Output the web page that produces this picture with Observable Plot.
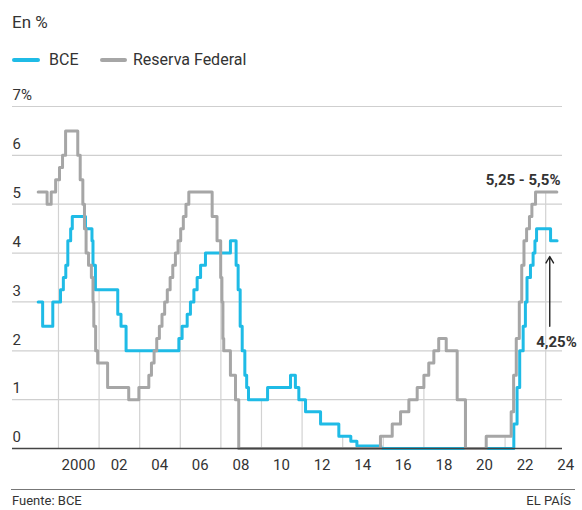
<!DOCTYPE html>
<html><head><meta charset="utf-8">
<script src="https://cdn.jsdelivr.net/npm/d3@7"></script>
<script src="https://cdn.jsdelivr.net/npm/@observablehq/plot@0.6"></script>
<style>
body{margin:0;background:#fff;font-family:Roboto,"Open Sans",sans-serif;color:#333;}
#wrap{position:relative;width:582px;height:510px;overflow:hidden;background:#fff;}
.title{position:absolute;left:12px;top:11px;font-size:17px;line-height:22px;}
.lg{position:absolute;top:49px;font-size:16px;line-height:22px;}
.sw{position:absolute;top:58px;height:4px;border-radius:2px;}
#chart{position:absolute;left:0;top:80px;}
.footline{position:absolute;left:11px;width:564px;top:489px;height:1px;background:#777;}
.src{position:absolute;left:12px;top:493px;font-size:13px;line-height:15px;}
.brand{position:absolute;right:11px;top:493px;font-size:13px;line-height:15px;}
</style></head>
<body>
<div id="wrap">
  <div class="title">En %</div>
  <div class="sw" style="left:12px;width:28px;background:#1fbbe6"></div>
  <div class="lg" style="left:49px">BCE</div>
  <div class="sw" style="left:100px;width:27px;background:#a6a6a6"></div>
  <div class="lg" style="left:133px">Reserva Federal</div>
  <div id="chart"></div>
  <div class="footline"></div>
  <div class="src">Fuente: BCE</div>
  <div class="brand">EL PAÍS</div>
</div>
<script>
// Reserva Federal (step points: year, rate %)
const fedYears = [1999.0, 1999.44, 1999.64, 1999.86, 2000.05, 2000.2, 2000.35, 2000.95, 2001.07, 2001.2, 2001.28, 2001.36, 2001.48, 2001.62, 2001.7, 2001.74, 2001.83, 2001.93, 2002.42, 2003.46, 2003.96,
  2004.45, 2004.58, 2004.71, 2004.84, 2004.97, 2005.1, 2005.23, 2005.36, 2005.5, 2005.63, 2005.76, 2005.89, 2006.02, 2006.15, 2006.28, 2006.42,
  2007.57, 2007.81, 2007.99, 2008.05, 2008.1, 2008.14, 2008.47, 2008.72, 2008.88,
  2015.86, 2016.44, 2016.85, 2017.26, 2017.67, 2018.0, 2018.24, 2018.49, 2018.73, 2019.1, 2019.64, 2020.05, 2021.07,
  2022.3, 2022.42, 2022.55, 2022.7, 2022.82, 2022.93, 2023.06, 2023.2, 2023.32, 2023.5, 2024.55];
const fedRates = [5.25, 5.0, 5.25, 5.5, 5.75, 6.0, 6.5, 6.0, 5.5, 5.0, 4.5, 4.0, 3.75, 3.5, 3.0, 2.5, 2.0, 1.75, 1.25, 1.0, 1.25,
  1.5, 1.75, 2.0, 2.25, 2.5, 2.75, 3.0, 3.25, 3.5, 3.75, 4.0, 4.25, 4.5, 4.75, 5.0, 5.25,
  4.75, 4.25, 3.5, 3.0, 2.25, 2.0, 1.5, 1.0, 0,
  0.25, 0.5, 0.75, 1.0, 1.25, 1.5, 1.75, 2.0, 2.25, 2.0, 1.0, 0, 0.25,
  0.75, 1.5, 2.25, 3.0, 3.75, 4.25, 4.5, 4.75, 5.0, 5.25, 5.25];

// BCE (step points: year, rate %)
const bceYears = [1999.0, 1999.22, 1999.72, 2000.1, 2000.24, 2000.36, 2000.46, 2000.6, 2000.68, 2001.33, 2001.65, 2001.7, 2001.82, 2002.92, 2003.08, 2003.33,
  2005.93, 2006.09, 2006.34, 2006.5, 2006.67, 2006.83, 2007.0, 2007.24, 2008.47, 2008.75, 2008.85, 2008.95, 2009.05, 2009.18, 2009.27, 2009.36,
  2010.3, 2011.43, 2011.67, 2011.84, 2012.17, 2012.91, 2013.81, 2014.4, 2014.7, 2015.88,
  2022.43, 2022.59, 2022.72, 2022.89, 2023.0, 2023.08, 2023.25, 2023.38, 2023.47, 2023.55, 2024.24, 2024.56];
const bceRates = [3.0, 2.5, 3.0, 3.25, 3.5, 3.75, 4.25, 4.5, 4.75, 4.5, 4.25, 3.75, 3.25, 2.75, 2.5, 2.0,
  2.25, 2.5, 2.75, 3.0, 3.25, 3.5, 3.75, 4.0, 4.25, 3.75, 3.25, 2.5, 2.0, 1.5, 1.25, 1.0,
  1.25, 1.5, 1.25, 1.0, 0.75, 0.5, 0.25, 0.15, 0.05, 0,
  0.5, 1.25, 2.0, 2.5, 3.0, 3.5, 3.75, 4.0, 4.25, 4.5, 4.25, 4.25];

const xTicks = [2000, 2002, 2004, 2006, 2008, 2010, 2012, 2014, 2016, 2018, 2020, 2022, 2024];
const xTickLabels = ["2000", "02", "04", "06", "08", "10", "12", "14", "16", "18", "20", "22", "24"];
const yTicks = [0, 1, 2, 3, 4, 5, 6, 7];
const yTickLabels = ["0", "1", "2", "3", "4", "5", "6", "7%"];
const fedLabel = "5,25 - 5,5%";
const bceLabel = "4,25%";

const fed = fedYears.map((y, i) => ({year: y, rate: fedRates[i]}));
const bce = bceYears.map((y, i) => ({year: y, rate: bceRates[i]}));
function rateAt(series, t) {
  let v = 0;
  for (const d of series) if (d.year <= t) v = d.rate;
  return v;
}
const cyan = "#1fbbe6", gray = "#a6a6a6";

const chart = Plot.plot({
  width: 582,
  height: 405,
  marginTop: 26,
  marginBottom: 37,
  marginLeft: 12,
  marginRight: 20,
  style: {fontFamily: "Roboto, sans-serif", fontSize: "15px", color: "#333", background: "transparent"},
  x: {domain: [1997.735, 2024.828]},
  y: {domain: [0, 7]},
  marks: [
    Plot.ruleY(yTicks.filter(d => d > 0), {stroke: "#cfcfcf", strokeWidth: 1.2}),
    Plot.ruleX(xTicks, {x: d => d, y1: 0, y2: d => Math.max(rateAt(fed, d), rateAt(bce, d)), stroke: "#d2d2d2", strokeWidth: 1.2}),
    Plot.axisY({ticks: yTicks, tickSize: 0, tickPadding: 0, textAnchor: "start", dy: -11,
      tickFormat: d => yTickLabels[yTicks.indexOf(d)], fill: "#333", label: null}),
    Plot.axisX({ticks: xTicks, tickSize: 0, tickPadding: 11, dx: 20,
      tickFormat: d => xTickLabels[xTicks.indexOf(d)], fill: "#333", label: null}),
    Plot.line(bce, {x: "year", y: "rate", curve: "step-after", stroke: cyan, strokeWidth: 3}),
    Plot.line(fed, {x: "year", y: "rate", curve: "step-after", stroke: gray, strokeWidth: 3}),
    Plot.ruleY([0], {stroke: "#444", strokeWidth: 1.5}),
    Plot.text([fedLabel], {x: 2024.73, y: 5.25, dy: -12, text: d => d, textAnchor: "end", fontWeight: "bold", fontSize: 15, fill: "#333"}),
    Plot.arrow([bceLabel], {x1: 2024.2, y1: 2.5, x2: 2024.2, y2: 3.93, stroke: "#222", strokeWidth: 1.4, headLength: 8}),
    Plot.text([bceLabel], {x: 2024.53, y: 2.5, dy: 16, text: d => d, fontWeight: "bold", fontSize: 15, fill: "#333"})
  ]
});
document.getElementById("chart").appendChild(chart);
</script>
</body></html>
